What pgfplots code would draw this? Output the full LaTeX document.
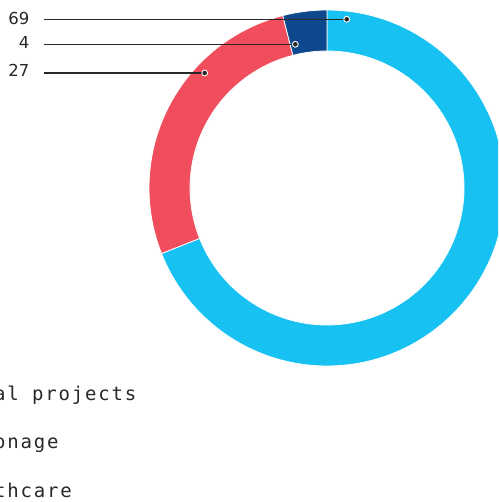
\documentclass[border=0pt]{standalone}
\usepackage{pgfplots}
\pgfplotsset{compat=1.18}
\usepackage{pgfplotstable}
\usetikzlibrary{calc}
\usepackage{fontspec}
\setmainfont{DejaVu Sans}
\newfontfamily\numf{DejaVu Sans}
\newfontfamily\monof[LetterSpace=9.5]{DejaVu Sans Mono}
\definecolor{cLight}{RGB}{23,193,242}
\definecolor{cRed}{RGB}{240,77,93}
\definecolor{cDark}{RGB}{14,72,140}
\definecolor{cText}{RGB}{40,40,40}

\pgfplotstableread{
label value
Healthcare 69
Espionage 4
Social 27
}\piedata
% values in drawing order (clockwise from top): 69, 27, 4
\pgfplotstablegetelem{0}{value}\of\piedata \let\vA\pgfplotsretval
\pgfplotstablegetelem{1}{value}\of\piedata \let\vC\pgfplotsretval
\pgfplotstablegetelem{2}{value}\of\piedata \let\vB\pgfplotsretval
\pgfmathsetmacro\aZero{90}
\pgfmathsetmacro\aOne{90-3.6*\vA}
\pgfmathsetmacro\aTwo{\aOne-3.6*\vB}
\pgfmathsetmacro\aThree{\aTwo-3.6*\vC}
\newcommand\slice[3]{%
  \filldraw[fill=#3,draw=white,line width=0.8pt] (axis cs:327,314) ++(#1:178pt)
    arc[start angle=#1,end angle=#2,radius=178pt]
    -- ($(axis cs:327,314)+(#2:137pt)$)
    arc[start angle=#2,end angle=#1,radius=137pt] -- cycle;}
\newcommand\leader[5]{% label, labelbaseline, liney, dotx, doty
  \node[anchor=base east,inner sep=0pt,text=cText,font=\numf\fontsize{16.5}{19}\selectfont] at (axis cs:29.5,#2) {#1};
  \draw[line width=1.1pt,color=cText] (axis cs:44,#3) -- (axis cs:#4,#5);
  \fill[white] (axis cs:#4,#5) circle (3.4pt);
  \fill[cText] (axis cs:#4,#5) circle (2.3pt);}

\begin{document}
\begin{tikzpicture}
\begin{axis}[x=1pt,y=1pt,xmin=0,xmax=498,ymin=0,ymax=502,hide axis,clip=true]
\slice{\aZero}{\aOne}{cLight}
\slice{\aOne}{\aTwo}{cRed}
\slice{\aTwo}{\aThree}{cDark}
\leader{69}{477}{482.7}{346.7}{482.7}
\leader{4}{453}{457.7}{295.3}{457.7}
\leader{27}{425.3}{429}{204.7}{429}
\node[anchor=base west,inner sep=0pt,text=cText,font=\monof\fontsize{19}{22}\selectfont] at (axis cs:-59,101) {Social projects};
\node[anchor=base west,inner sep=0pt,text=cText,font=\monof\fontsize{19}{22}\selectfont] at (axis cs:-59,53) {Espionage};
\node[anchor=base west,inner sep=0pt,text=cText,font=\monof\fontsize{19}{22}\selectfont] at (axis cs:-59,5) {Healthcare};
\end{axis}
\pgfresetboundingbox
\useasboundingbox (0,0) rectangle (498pt,502pt);
\end{tikzpicture}
\end{document}
